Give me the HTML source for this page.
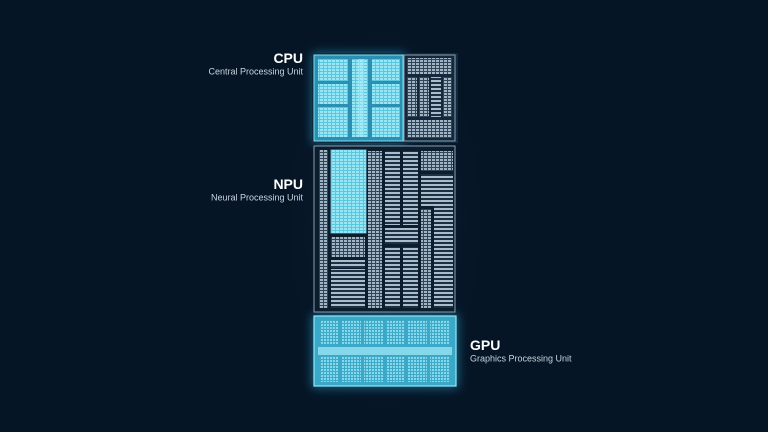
<!DOCTYPE html>
<html><head><meta charset="utf-8"><style>
html,body{margin:0;padding:0;width:768px;height:432px;overflow:hidden;background:#061526}
svg{display:block}
text{font-family:"Liberation Sans",sans-serif}
</style></head><body>
<svg width="768" height="432" viewBox="0 0 768 432" xmlns="http://www.w3.org/2000/svg">
<defs>
<radialGradient id="glow" cx="0.5" cy="0.5" r="0.5">
<stop offset="0" stop-color="#123550" stop-opacity="0.7"/><stop offset="1" stop-color="#061526" stop-opacity="0"/>
</radialGradient>
<filter id="blur" x="-50%" y="-50%" width="200%" height="200%"><feGaussianBlur stdDeviation="5"/></filter>
<pattern id="cyanL" width="4" height="3" patternUnits="userSpaceOnUse">
<rect width="4" height="3" fill="#58c8e0"/><rect width="3" height="2" fill="#9ae6f4"/>
</pattern>
<pattern id="greyL" width="4" height="3" patternUnits="userSpaceOnUse">
<rect width="4" height="3" fill="#2e4458"/><rect width="3" height="2" fill="#a0b4c4"/>
</pattern>
<pattern id="greyH" width="6" height="4" patternUnits="userSpaceOnUse">
<rect width="6" height="4" fill="#1c3044"/><rect width="6" height="2" fill="#a8bccb"/>
</pattern>
<pattern id="gpuP" width="3" height="3" patternUnits="userSpaceOnUse">
<rect width="3" height="3" fill="#3fa9c8"/><rect width="2" height="2" fill="#86d8ec"/>
</pattern>
</defs>
<rect width="768" height="432" fill="#061526"/>
<ellipse cx="385" cy="220" rx="110" ry="210" fill="url(#glow)"/>
<rect x="312" y="53" width="93" height="90" fill="#2aa8d0" opacity="0.55" filter="url(#blur)"/>
<rect x="312" y="314" width="146" height="74" fill="#2aa8d0" opacity="0.55" filter="url(#blur)"/>

<!-- CPU -->
<rect x="312" y="53" width="146" height="90" fill="#0d2a3e"/>
<rect x="314" y="55" width="89" height="86" fill="#2a8fb0" stroke="#7fe0f5" stroke-width="1"/>
<g fill="url(#cyanL)">
<rect x="318" y="59" width="30" height="22"/><rect x="318" y="84" width="30" height="20"/><rect x="318" y="107" width="30" height="30"/>
<rect x="372" y="59" width="28" height="22"/><rect x="372" y="84" width="28" height="20"/><rect x="372" y="107" width="28" height="30"/>
<rect x="352" y="59" width="16" height="78"/>
</g>
<rect x="358" y="59" width="6" height="78" fill="#b0f0fa" opacity="0.5"/>
<rect x="404" y="55" width="51" height="86" fill="#15273a" stroke="#8aa0b0" stroke-width="1"/>
<g fill="url(#greyL)">
<rect x="407" y="58" width="45" height="16"/><rect x="407" y="77" width="10" height="40"/><rect x="419" y="77" width="10" height="40"/><rect x="443" y="77" width="9" height="40"/><rect x="407" y="120" width="45" height="18"/>
</g>
<rect x="431" y="77" width="10" height="40" fill="url(#greyH)"/>

<!-- NPU -->
<rect x="314" y="146" width="141" height="166" fill="#0c1d2e" stroke="#8aa0b0" stroke-width="1"/>
<g fill="url(#greyL)">
<rect x="319" y="150" width="9" height="158"/>
<rect x="368" y="151" width="14" height="157"/>
<rect x="421" y="151" width="32" height="20"/>
<rect x="421" y="209" width="10" height="99"/>
<rect x="331" y="237" width="34" height="20"/>
</g>
<g fill="url(#greyH)">
<rect x="385" y="151" width="15" height="74"/><rect x="403" y="151" width="15" height="74"/>
<rect x="385" y="228" width="33" height="16"/>
<rect x="385" y="247" width="15" height="61"/><rect x="403" y="247" width="15" height="61"/>
<rect x="421" y="174" width="14" height="32"/>
<rect x="434" y="174" width="19" height="134"/>
<rect x="331" y="260" width="34" height="8"/>
<rect x="331" y="269" width="34" height="39"/>
</g>
<rect x="331" y="150" width="35" height="83" fill="url(#cyanL)" stroke="#7fe0f5" stroke-width="0.7"/>

<!-- GPU -->
<rect x="314" y="316" width="142" height="70" fill="#3aa8c8" stroke="#90e8fa" stroke-width="1.2"/>
<g fill="url(#gpuP)">
<rect x="320" y="320" width="19" height="24"/><rect x="342" y="320" width="19" height="24"/><rect x="364" y="320" width="19" height="24"/><rect x="386" y="320" width="19" height="24"/><rect x="408" y="320" width="19" height="24"/><rect x="430" y="320" width="20" height="24"/>
<rect x="320" y="357" width="19" height="25"/><rect x="342" y="357" width="19" height="25"/><rect x="364" y="357" width="19" height="25"/><rect x="386" y="357" width="19" height="25"/><rect x="408" y="357" width="19" height="25"/><rect x="430" y="357" width="20" height="25"/>
</g>
<rect x="318" y="347" width="134" height="8" fill="#9ae2f2" opacity="0.8"/>

<!-- labels -->
<text x="303" y="63" font-size="14" font-weight="bold" fill="#ffffff" text-anchor="end">CPU</text>
<text x="303" y="74.5" font-size="9" fill="#c8d4de" text-anchor="end">Central Processing Unit</text>
<text x="303" y="189" font-size="14" font-weight="bold" fill="#ffffff" text-anchor="end">NPU</text>
<text x="303" y="200.5" font-size="9" fill="#c8d4de" text-anchor="end">Neural Processing Unit</text>
<text x="470" y="350" font-size="14" font-weight="bold" fill="#ffffff">GPU</text>
<text x="470" y="361.5" font-size="9" fill="#c8d4de">Graphics Processing Unit</text>
</svg>
</body></html>
